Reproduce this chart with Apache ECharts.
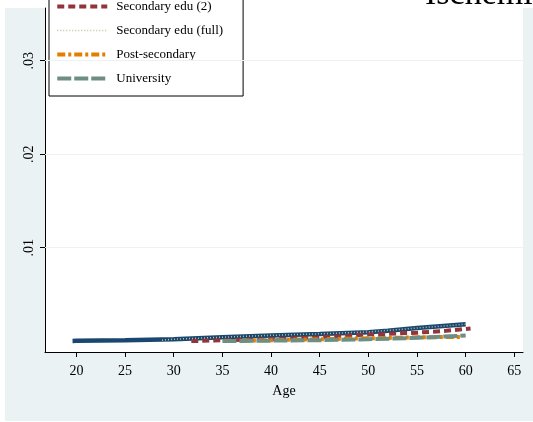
<!DOCTYPE html>
<html>
<head>
<meta charset="utf-8">
<script src="https://cdn.jsdelivr.net/npm/echarts@6/dist/echarts.min.js"></script>
<style>html,body{margin:0;padding:0;background:#fff}#c{width:533px;height:422px}</style>
</head>
<body>
<div id="c"></div>
<script>
const seriesNames = ['Secondary edu (1)', 'Secondary edu (2)', 'Secondary edu (full)', 'Post-secondary', 'University'];
const xTicks = [20, 25, 30, 35, 40, 45, 50, 55, 60, 65];
const yTicks = [0.01, 0.02, 0.03];

const agesNavy = [19.6, 20, 25, 30, 35, 40, 45, 50, 52, 55, 58, 60];
const valsNavy = [0.00002, 0.00003, 0.00008, 0.0002, 0.0004, 0.0006, 0.00075, 0.00095, 0.0011, 0.0014, 0.00165, 0.0018];

const agesMaroon = [31.8, 35, 40, 45, 50, 55, 58, 60.5];
const valsMaroon = [0.0000, 0.0001, 0.0002, 0.0004, 0.0007, 0.0009, 0.0011, 0.00135];

const agesDotted = [28.8, 30, 35, 40, 45, 50, 55, 60];
const valsDotted = [0.0001, 0.0002, 0.00042, 0.00062, 0.00078, 0.00098, 0.0014, 0.0018];

const agesOrange = [37, 40, 45, 50, 55, 59.5];
const valsOrange = [0.00005, 0.0001, 0.0002, 0.0003, 0.0004, 0.00045];

const agesTeal = [35, 40, 45, 50, 55, 60];
const valsTeal = [0.0000, 0.00005, 0.0001, 0.0002, 0.00035, 0.0006];

const pair = (a, v) => a.map((x, i) => [x, v[i]]);
const FONT = "'Liberation Serif', 'Times New Roman', serif";

const chart = echarts.init(document.getElementById('c'), null, {renderer: 'canvas'});
const lineDefs = [
  {d: pair(agesNavy, valsNavy), color: '#1a476f', width: 4.5, type: 'solid'},
  {d: pair(agesMaroon, valsMaroon), color: '#90353b', width: 4, type: [7, 4]},
  {d: pair(agesDotted, valsDotted), color: '#b9c2a0', width: 1.5, type: [1, 2]},
  {d: pair(agesOrange, valsOrange), color: '#e37e00', width: 4, type: [8, 3, 3, 3]},
  {d: pair(agesTeal, valsTeal), color: '#6e8e84', width: 4, type: [14, 3]}
];

const series = lineDefs.map((s, i) => ({
  name: seriesNames[i],
  type: 'line',
  data: s.d,
  symbol: 'none',
  smooth: false,
  color: s.color,
  lineStyle: {color: s.color, width: s.width, type: s.type, cap: 'butt'},
  markLine: i === 0 ? {
    silent: true, symbol: 'none', label: {show: false},
    lineStyle: {color: '#eaf2f3', width: 1, type: 'solid'},
    data: yTicks.map(v => ({yAxis: v}))
  } : undefined
}));

chart.setOption({
  animation: false,
  backgroundColor: '#eaf2f3',
  textStyle: {fontFamily: FONT},
  grid: {left: 45, right: 10, top: 8, bottom: 70, show: true, backgroundColor: '#ffffff', borderWidth: 0},
  legend: {
    orient: 'vertical', left: 49, top: -32,
    padding: [8, 20, 11, 6],
    itemWidth: 50, itemHeight: 14, itemGap: 11,
    itemStyle: {opacity: 0},
    backgroundColor: '#ffffff', borderColor: '#000', borderWidth: 1, borderRadius: 0,
    textStyle: {fontFamily: FONT, fontSize: 13, color: '#000', padding: [0, 0, 0, 4]},
    data: seriesNames.map((n, i) => ({name: n, lineStyle: {width: lineDefs[i].width, type: lineDefs[i].type, color: lineDefs[i].color, cap: 'butt'}}))
  },
  xAxis: {
    type: 'value', min: 16.77, max: 65.89,
    name: 'Age', nameLocation: 'middle', nameGap: 32,
    nameTextStyle: {fontFamily: FONT, fontSize: 14, color: '#000'},
    axisLine: {show: true, onZero: false, lineStyle: {color: '#000', width: 1}},
    axisTick: {show: true, length: 5, lineStyle: {color: '#000'}, customValues: xTicks},
    axisLabel: {fontFamily: FONT, fontSize: 14, color: '#000', margin: 12, customValues: xTicks},
    splitLine: {show: false}
  },
  yAxis: {
    type: 'value', min: -0.001166, max: 0.03564,
    axisLine: {show: true, onZero: false, lineStyle: {color: '#000', width: 1}},
    axisTick: {show: true, length: 5, lineStyle: {color: '#000'}, customValues: yTicks},
    axisLabel: {fontFamily: FONT, fontSize: 14, color: '#000', margin: 9, rotate: 90,
      customValues: yTicks,
      formatter: v => (Math.round(v * 100) / 100).toFixed(2).replace(/^0/, '')},
    splitLine: {show: false}
  },
  graphic: {
    zlevel: 1,
    elements: [
      {type: 'rect', shape: {x: 0, y: 0, width: 533, height: 8}, style: {fill: '#fff'}},
      {type: 'rect', shape: {x: 0, y: 0, width: 5, height: 422}, style: {fill: '#fff'}},
      {type: 'rect', shape: {x: 0, y: 421, width: 533, height: 1}, style: {fill: '#fff'}},
      {type: 'text', x: 425, y: -5, style: {text: 'Ischemic heart disease', font: "34px 'Liberation Serif', serif", fill: '#000', verticalAlign: 'middle', align: 'left'}}
    ]
  },
  series: series
});
</script>
</body>
</html>
